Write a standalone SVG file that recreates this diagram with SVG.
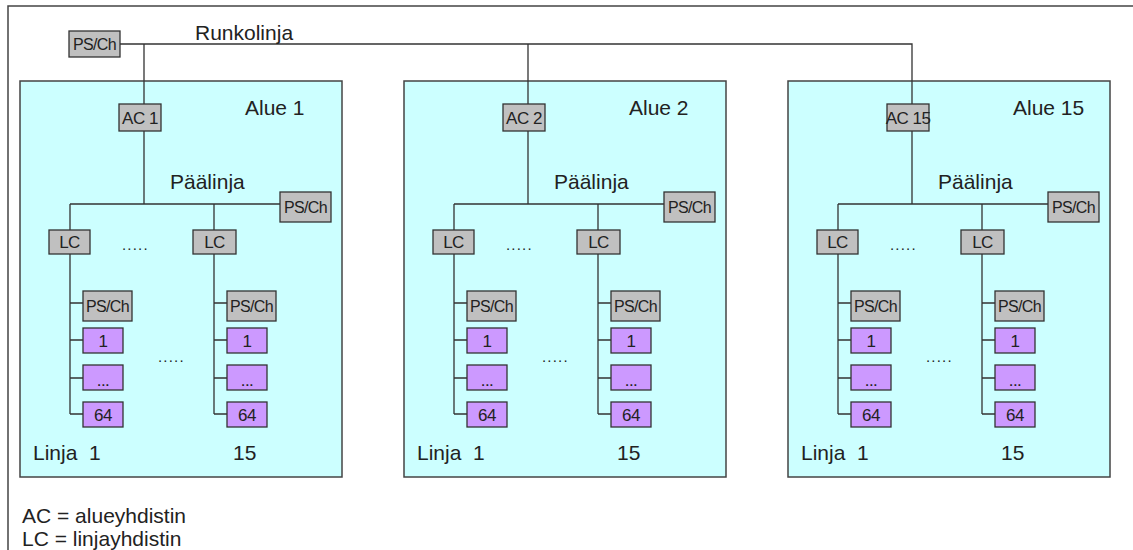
<svg xmlns="http://www.w3.org/2000/svg" width="1133" height="550" viewBox="0 0 1133 550">
<style>
text{font-family:"Liberation Sans",Arial,sans-serif;fill:#222}
.big{font-size:21px}
.bx{font-size:17px;text-anchor:middle;letter-spacing:-0.5px}
.sm{font-size:16px;text-anchor:middle;letter-spacing:-0.6px}
.dots{font-size:15px;letter-spacing:1.2px}
.area{fill:#ccffff;stroke:#444;stroke-width:1.5}
.g{fill:#c0c0c0;stroke:#333;stroke-width:1.3}
.p{fill:#cc99ff;stroke:#333;stroke-width:1.3}
.ln{fill:none;stroke:#333;stroke-width:1.3}
.pre{white-space:pre}
</style>
<rect width="1133" height="550" fill="#fff"/>
<path d="M8,550 V6 H1133" fill="none" stroke="#444" stroke-width="1.5"/>

<g id="areas">
<rect id="area1" class="area" x="20" y="81" width="322" height="396"/>
<rect id="area2" class="area" x="404" y="81" width="322" height="396"/>
<rect id="area15" class="area" x="788" y="81" width="322" height="396"/>
</g>

<g id="connectors" class="ln">
<path d="M120,44 H912 V104 M144,44 V104 M528,44 V104"/>
<g transform="translate(0,0)">
<path d="M144,131 V204 M70,204 H280 M70,204 V230 M214,204 V230 M70,254 V414 M214,254 V414 M70,303 H83 M70,340 H83 M70,378 H83 M70,414 H83 M214,303 H227 M214,340 H227 M214,378 H227 M214,414 H227"/>
</g>
<g transform="translate(384,0)">
<path d="M144,131 V204 M70,204 H280 M70,204 V230 M214,204 V230 M70,254 V414 M214,254 V414 M70,303 H83 M70,340 H83 M70,378 H83 M70,414 H83 M214,303 H227 M214,340 H227 M214,378 H227 M214,414 H227"/>
</g>
<g transform="translate(768,0)">
<path d="M144,131 V204 M70,204 H280 M70,204 V230 M214,204 V230 M70,254 V414 M214,254 V414 M70,303 H83 M70,340 H83 M70,378 H83 M70,414 H83 M214,303 H227 M214,340 H227 M214,378 H227 M214,414 H227"/>
</g>
</g>

<g id="backbone-psch"><rect class="g" x="69" y="31" width="51" height="26"/><text class="sm" x="94.5" y="50">PS/Ch</text></g>
<text id="runkolinja" class="big" x="195" y="40">Runkolinja</text>

<!-- Area 1 -->
<g id="area1-nodes">
<text class="big" x="245" y="115">Alue 1</text>
<text class="big" x="170" y="189">Päälinja</text>
<g id="ac1"><rect class="g" x="119" y="104" width="42" height="27"/><text class="bx" x="140" y="124">AC 1</text></g>
<g id="a1-psch"><rect class="g" x="280" y="192" width="51" height="30"/><text class="sm" x="305.5" y="213">PS/Ch</text></g>
<g id="a1-lc1"><rect class="g" x="49" y="230" width="41" height="24"/><text class="bx" x="69.5" y="248">LC</text></g>
<g id="a1-lc15"><rect class="g" x="193" y="230" width="43" height="24"/><text class="bx" x="214.5" y="248">LC</text></g>
<text class="dots" x="122" y="250">.....</text>
<g id="a1-l1-psch"><rect class="g" x="83" y="291" width="49" height="30"/><text class="sm" x="107.5" y="312">PS/Ch</text></g>
<g id="a1-l1-d1"><rect class="p" x="83" y="328" width="40" height="25"/><text class="bx" x="103" y="347">1</text></g>
<g id="a1-l1-dx"><rect class="p" x="83" y="365" width="40" height="25"/><text class="bx" x="103" y="386">...</text></g>
<g id="a1-l1-d64"><rect class="p" x="83" y="402" width="40" height="25"/><text class="bx" x="103" y="421">64</text></g>
<g id="a1-l15-psch"><rect class="g" x="227" y="291" width="49" height="30"/><text class="sm" x="251.5" y="312">PS/Ch</text></g>
<g id="a1-l15-d1"><rect class="p" x="227" y="328" width="40" height="25"/><text class="bx" x="247" y="347">1</text></g>
<g id="a1-l15-dx"><rect class="p" x="227" y="365" width="40" height="25"/><text class="bx" x="247" y="386">...</text></g>
<g id="a1-l15-d64"><rect class="p" x="227" y="402" width="40" height="25"/><text class="bx" x="247" y="421">64</text></g>
<text class="dots" x="158" y="362">.....</text>
<text class="big pre" x="33" y="460">Linja  1</text>
<text class="big" x="233" y="460">15</text>
</g>

<!-- Area 2 -->
<g id="area2-nodes" transform="translate(384,0)">
<text class="big" x="245" y="115">Alue 2</text>
<text class="big" x="170" y="189">Päälinja</text>
<g id="ac2"><rect class="g" x="119" y="104" width="42" height="27"/><text class="bx" x="140" y="124">AC 2</text></g>
<g id="a2-psch"><rect class="g" x="280" y="192" width="51" height="30"/><text class="sm" x="305.5" y="213">PS/Ch</text></g>
<g id="a2-lc1"><rect class="g" x="49" y="230" width="41" height="24"/><text class="bx" x="69.5" y="248">LC</text></g>
<g id="a2-lc15"><rect class="g" x="193" y="230" width="43" height="24"/><text class="bx" x="214.5" y="248">LC</text></g>
<text class="dots" x="122" y="250">.....</text>
<g id="a2-l1-psch"><rect class="g" x="83" y="291" width="49" height="30"/><text class="sm" x="107.5" y="312">PS/Ch</text></g>
<g id="a2-l1-d1"><rect class="p" x="83" y="328" width="40" height="25"/><text class="bx" x="103" y="347">1</text></g>
<g id="a2-l1-dx"><rect class="p" x="83" y="365" width="40" height="25"/><text class="bx" x="103" y="386">...</text></g>
<g id="a2-l1-d64"><rect class="p" x="83" y="402" width="40" height="25"/><text class="bx" x="103" y="421">64</text></g>
<g id="a2-l15-psch"><rect class="g" x="227" y="291" width="49" height="30"/><text class="sm" x="251.5" y="312">PS/Ch</text></g>
<g id="a2-l15-d1"><rect class="p" x="227" y="328" width="40" height="25"/><text class="bx" x="247" y="347">1</text></g>
<g id="a2-l15-dx"><rect class="p" x="227" y="365" width="40" height="25"/><text class="bx" x="247" y="386">...</text></g>
<g id="a2-l15-d64"><rect class="p" x="227" y="402" width="40" height="25"/><text class="bx" x="247" y="421">64</text></g>
<text class="dots" x="158" y="362">.....</text>
<text class="big pre" x="33" y="460">Linja  1</text>
<text class="big" x="233" y="460">15</text>
</g>

<!-- Area 15 -->
<g id="area15-nodes" transform="translate(768,0)">
<text class="big" x="245" y="115">Alue 15</text>
<text class="big" x="170" y="189">Päälinja</text>
<g id="ac15"><rect class="g" x="119" y="104" width="42" height="27"/><text class="bx" x="140" y="124">AC 15</text></g>
<g id="a15-psch"><rect class="g" x="280" y="192" width="51" height="30"/><text class="sm" x="305.5" y="213">PS/Ch</text></g>
<g id="a15-lc1"><rect class="g" x="49" y="230" width="41" height="24"/><text class="bx" x="69.5" y="248">LC</text></g>
<g id="a15-lc15"><rect class="g" x="193" y="230" width="43" height="24"/><text class="bx" x="214.5" y="248">LC</text></g>
<text class="dots" x="122" y="250">.....</text>
<g id="a15-l1-psch"><rect class="g" x="83" y="291" width="49" height="30"/><text class="sm" x="107.5" y="312">PS/Ch</text></g>
<g id="a15-l1-d1"><rect class="p" x="83" y="328" width="40" height="25"/><text class="bx" x="103" y="347">1</text></g>
<g id="a15-l1-dx"><rect class="p" x="83" y="365" width="40" height="25"/><text class="bx" x="103" y="386">...</text></g>
<g id="a15-l1-d64"><rect class="p" x="83" y="402" width="40" height="25"/><text class="bx" x="103" y="421">64</text></g>
<g id="a15-l15-psch"><rect class="g" x="227" y="291" width="49" height="30"/><text class="sm" x="251.5" y="312">PS/Ch</text></g>
<g id="a15-l15-d1"><rect class="p" x="227" y="328" width="40" height="25"/><text class="bx" x="247" y="347">1</text></g>
<g id="a15-l15-dx"><rect class="p" x="227" y="365" width="40" height="25"/><text class="bx" x="247" y="386">...</text></g>
<g id="a15-l15-d64"><rect class="p" x="227" y="402" width="40" height="25"/><text class="bx" x="247" y="421">64</text></g>
<text class="dots" x="158" y="362">.....</text>
<text class="big pre" x="33" y="460">Linja  1</text>
<text class="big" x="233" y="460">15</text>
</g>

<g id="legend">
<text class="big" x="22" y="523">AC = alueyhdistin</text>
<text class="big" x="22" y="546">LC = linjayhdistin</text>
</g>
</svg>
